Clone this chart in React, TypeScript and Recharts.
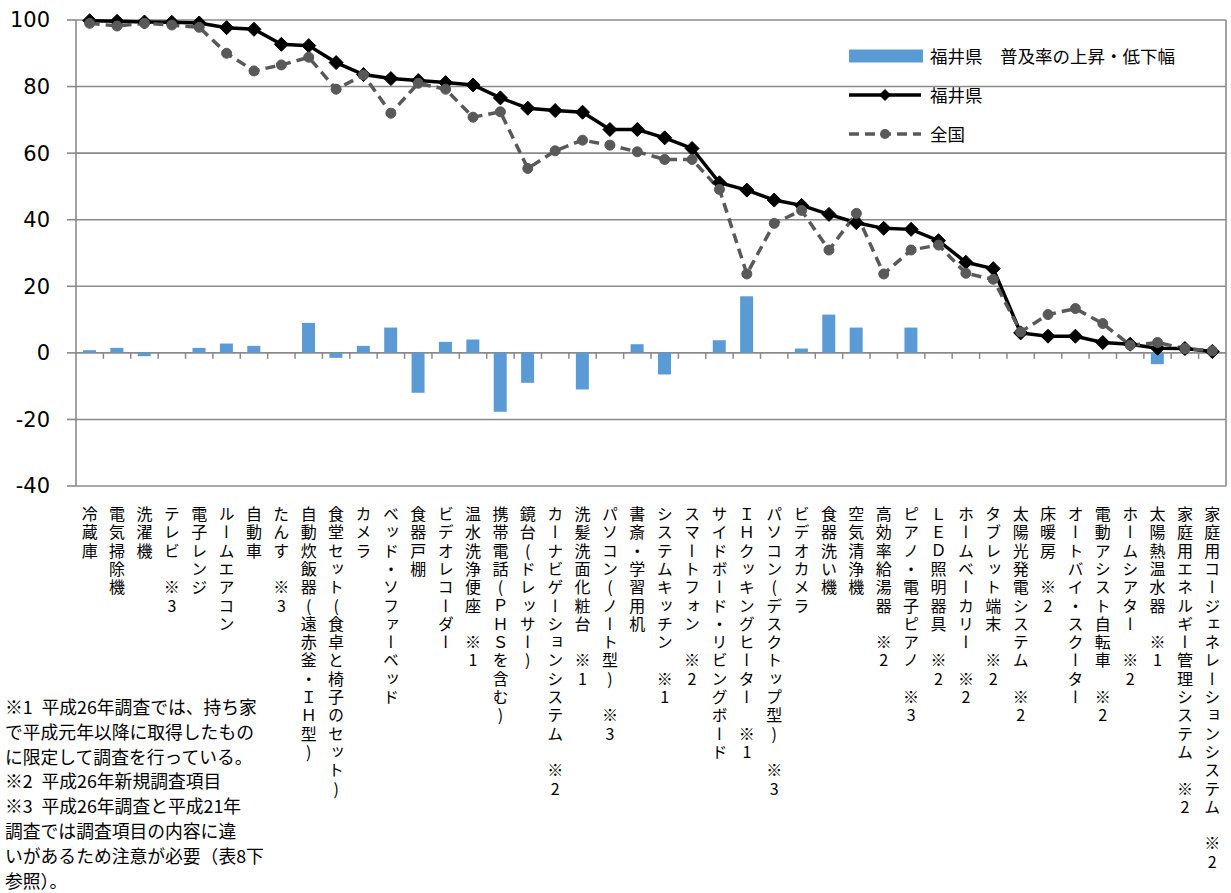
import React from 'react';
import { ComposedChart, Bar, Line, XAxis, YAxis, CartesianGrid, Legend } from 'recharts';

const categories = [
  '冷蔵庫', '電気掃除機', '洗濯機', 'テレビ　※3', '電子レンジ', 'ルームエアコン', '自動車', 'たんす　※3',
  '自動炊飯器(遠赤釜・ＩＨ型)', '食堂セット(食卓と椅子のセット)', 'カメラ', 'ベッド・ソファーベッド', '食器戸棚',
  'ビデオレコーダー', '温水洗浄便座　※1', '携帯電話(ＰＨＳを含む)', '鏡台(ドレッサー)', 'カーナビゲーションシステム　※2',
  '洗髪洗面化粧台　※1', 'パソコン(ノート型)　※3', '書斎・学習用机', 'システムキッチン　※1', 'スマートフォン　※2',
  'サイドボード・リビングボード', 'ＩＨクッキングヒーター　※1', 'パソコン(デスクトップ型)　※3', 'ビデオカメラ', '食器洗い機',
  '空気清浄機', '高効率給湯器　※2', 'ピアノ・電子ピアノ　※3', 'ＬＥＤ照明器具　※2', 'ホームベーカリー　※2',
  'タブレット端末　※2', '太陽光発電システム　※2', '床暖房　※2', 'オートバイ・スクーター', '電動アシスト自転車　※2',
  'ホームシアター　※2', '太陽熱温水器　※1', '家庭用エネルギー管理システム　※2', '家庭用コージェネレーションシステム　※2',
];

const fukuiChange: (number | null)[] = [
  0.8, 1.5, -1.0, null, 1.5, 2.8, 2.1, null, 9.0, -1.5, 2.1, 7.6, -12.0, 3.3, 4.0, -17.7, -9.0, null,
  -11.0, null, 2.6, -6.5, null, 3.8, 17.0, null, 1.3, 11.5, 7.6, null, 7.6, null, null, null, null, null,
  null, null, null, -3.4, null, null,
];

const fukui = [
  99.8, 99.6, 99.4, 99.3, 99.1, 97.7, 97.2, 92.7, 92.3, 87.2, 83.6, 82.4, 81.8, 81.2, 80.5, 76.6, 73.5, 72.8,
  72.3, 67.1, 67.1, 64.6, 61.4, 51.1, 48.9, 45.9, 44.3, 41.6, 39.1, 37.4, 37.1, 33.7, 27.2, 25.3, 6.0, 5.0,
  5.0, 3.1, 2.6, 1.4, 1.3, 0.4,
];

const zenkoku = [
  99.0, 98.2, 99.0, 98.5, 97.8, 90.0, 84.7, 86.5, 88.8, 79.2, 83.5, 72.0, 81.0, 79.2, 70.8, 72.4, 55.4, 60.7,
  63.9, 62.4, 60.4, 58.1, 58.1, 49.1, 23.7, 38.9, 42.8, 30.9, 41.9, 23.7, 30.9, 32.4, 23.9, 22.1, 6.3, 11.5,
  13.3, 8.8, 2.3, 3.1, 1.3, 0.6,
];

const yTicks = [-40, -20, 0, 20, 40, 60, 80, 100];
const yDomain: [number, number] = [-40, 100];

const footnotes = [
  '※1\u2002平成26年調査では、持ち家',
  'で平成元年以降に取得したもの',
  'に限定して調査を行っている。',
  '※2\u2002平成26年新規調査項目',
  '※3\u2002平成26年調査と平成21年',
  '調査では調査項目の内容に違',
  'いがあるため注意が必要（表8下',
  '参照）。',
];

const seriesOrder = ['change', 'fukui', 'zenkoku'];

const data = categories.map((name, i) => ({
  name,
  change: fukuiChange[i],
  fukui: fukui[i],
  zenkoku: zenkoku[i],
}));

const W = 1231;
const H = 893;
const M = { top: 20, right: 0, left: 0, bottom: 7 };
const Y_AXIS_W = 76;
const RIGHT_AXIS_W = 5;
const X_AXIS_H = 400;
const PLOT_TOP = M.top;
const PLOT_H = H - M.top - M.bottom - X_AXIS_H;
const PLOT_W = W - M.left - M.right - Y_AXIS_W - RIGHT_AXIS_W;
const ZERO_Y = PLOT_TOP + (PLOT_H * (yDomain[1] - 0)) / (yDomain[1] - yDomain[0]);
const LABEL_TOP = 506;

const GRID = '#8a8a8a';
const BLUE = '#5b9bd5';
const GRAY = '#595959';
const CJK = '"Noto Sans CJK JP", sans-serif';

const XTick = (props: any) => {
  const { x, payload, index } = props;
  const half = payload && typeof payload.offset === 'number' && payload.offset > 0 ? payload.offset : PLOT_W / categories.length / 2;
  return (
    <g>
      {index > 0 && (
        <line x1={x - half} x2={x - half} y1={ZERO_Y} y2={ZERO_Y + 6} stroke={GRID} strokeWidth={1.5} />
      )}
      <text
        x={x}
        y={LABEL_TOP}
        fontSize={16}
        fontFamily={CJK}
        fill="#000"
        style={{ writingMode: 'vertical-rl', textOrientation: 'upright', letterSpacing: '2.3px' } as any}
      >
        {payload.value}
      </text>
    </g>
  );
};

const Diamond = (props: any) => {
  const { cx, cy, index } = props;
  if (cx == null || cy == null) return <g key={`d-${index}`} />;
  const s = 7;
  return (
    <polygon
      key={`d-${index}`}
      points={`${cx},${cy - s} ${cx + s},${cy} ${cx},${cy + s} ${cx - s},${cy}`}
      fill="#000"
      stroke="#000"
      strokeWidth={1}
    />
  );
};

const LegendIcon = ({ dataKey }: { dataKey: string }) => {
  if (dataKey === 'change') {
    return (
      <svg width={76} height={20} style={{ display: 'block' }}>
        <rect x={0} y={3.5} width={74} height={13} fill={BLUE} />
      </svg>
    );
  }
  if (dataKey === 'fukui') {
    return (
      <svg width={76} height={20} style={{ display: 'block' }}>
        <line x1={0} x2={72} y1={10} y2={10} stroke="#000" strokeWidth={3.5} />
        <polygon points="36,4 42,10 36,16 30,10" fill="#000" />
      </svg>
    );
  }
  return (
    <svg width={76} height={20} style={{ display: 'block' }}>
      <line x1={0} x2={72} y1={10} y2={10} stroke={GRAY} strokeWidth={3.5} strokeDasharray="10 6" />
      <circle cx={36} cy={10} r={5} fill={GRAY} />
    </svg>
  );
};

const LegendContent = (props: any) => {
  const payload = [...(props.payload || [])].sort(
    (a: any, b: any) => seriesOrder.indexOf(a.dataKey) - seriesOrder.indexOf(b.dataKey)
  );
  return (
    <div style={{ fontFamily: CJK, fontSize: 17.5, color: '#000' }}>
      {payload.map((p: any) => (
        <div key={p.dataKey} style={{ display: 'flex', alignItems: 'center', height: 39 }}>
          <LegendIcon dataKey={p.dataKey} />
          <span style={{ marginLeft: 5, whiteSpace: 'pre' }}>{p.value}</span>
        </div>
      ))}
    </div>
  );
};

export default function App() {
  return (
    <div style={{ position: 'absolute', left: 0, top: 0, width: W, height: H, background: '#fff', overflow: 'hidden' }}>
      <ComposedChart width={W} height={H} data={data} margin={M}>
        <CartesianGrid horizontal vertical={false} stroke={GRID} strokeWidth={1.6} />
        <XAxis
          dataKey="name"
          type="category"
          interval={0}
          height={X_AXIS_H}
          axisLine={false}
          tickLine={false}
          tick={<XTick />}
        />
        <YAxis
          yAxisId={0}
          domain={yDomain}
          ticks={yTicks}
          interval={0}
          width={Y_AXIS_W}
          tickSize={9}
          tickMargin={17}
          axisLine={{ stroke: GRID, strokeWidth: 1.6 }}
          tickLine={{ stroke: GRID, strokeWidth: 1.6 }}
          tick={{ fill: '#000', fontSize: 21, fontFamily: '"DejaVu Sans", sans-serif' }}
        />
        <YAxis
          yAxisId="right"
          orientation="right"
          domain={yDomain}
          allowDataOverflow
          width={RIGHT_AXIS_W}
          tick={false}
          tickLine={false}
          axisLine={{ stroke: GRID, strokeWidth: 1.6 }}
        />
        <Legend
          layout="vertical"
          align="center"
          verticalAlign="middle"
          wrapperStyle={{ left: 849, top: 36, width: 340, height: 120 }}
          content={<LegendContent />}
        />
        <Bar
          yAxisId={0}
          dataKey="change"
          name="福井県　普及率の上昇・低下幅"
          fill={BLUE}
          barSize={13}
          isAnimationActive={false}
        />
        <Line
          yAxisId={0}
          dataKey="fukui"
          name="福井県"
          stroke="#000"
          strokeWidth={3.5}
          dot={<Diamond />}
          activeDot={false}
          isAnimationActive={false}
        />
        <Line
          yAxisId={0}
          dataKey="zenkoku"
          name="全国"
          stroke={GRAY}
          strokeWidth={3.5}
          strokeDasharray="10 6"
          dot={{ r: 5, fill: GRAY, stroke: GRAY, strokeWidth: 1, strokeDasharray: '' }}
          activeDot={false}
          isAnimationActive={false}
        />
      </ComposedChart>
      <div
        style={{
          position: 'absolute',
          left: 5,
          top: 697,
          fontFamily: CJK,
          fontSize: 17.8,
          color: '#000',
          whiteSpace: 'pre',
        }}
      >
        {footnotes.map((t, i) => (
          <div key={i} style={{ height: i === footnotes.length - 1 ? 18 : 24.8, lineHeight: '18px' }}>
            {t}
          </div>
        ))}
      </div>
    </div>
  );
}
